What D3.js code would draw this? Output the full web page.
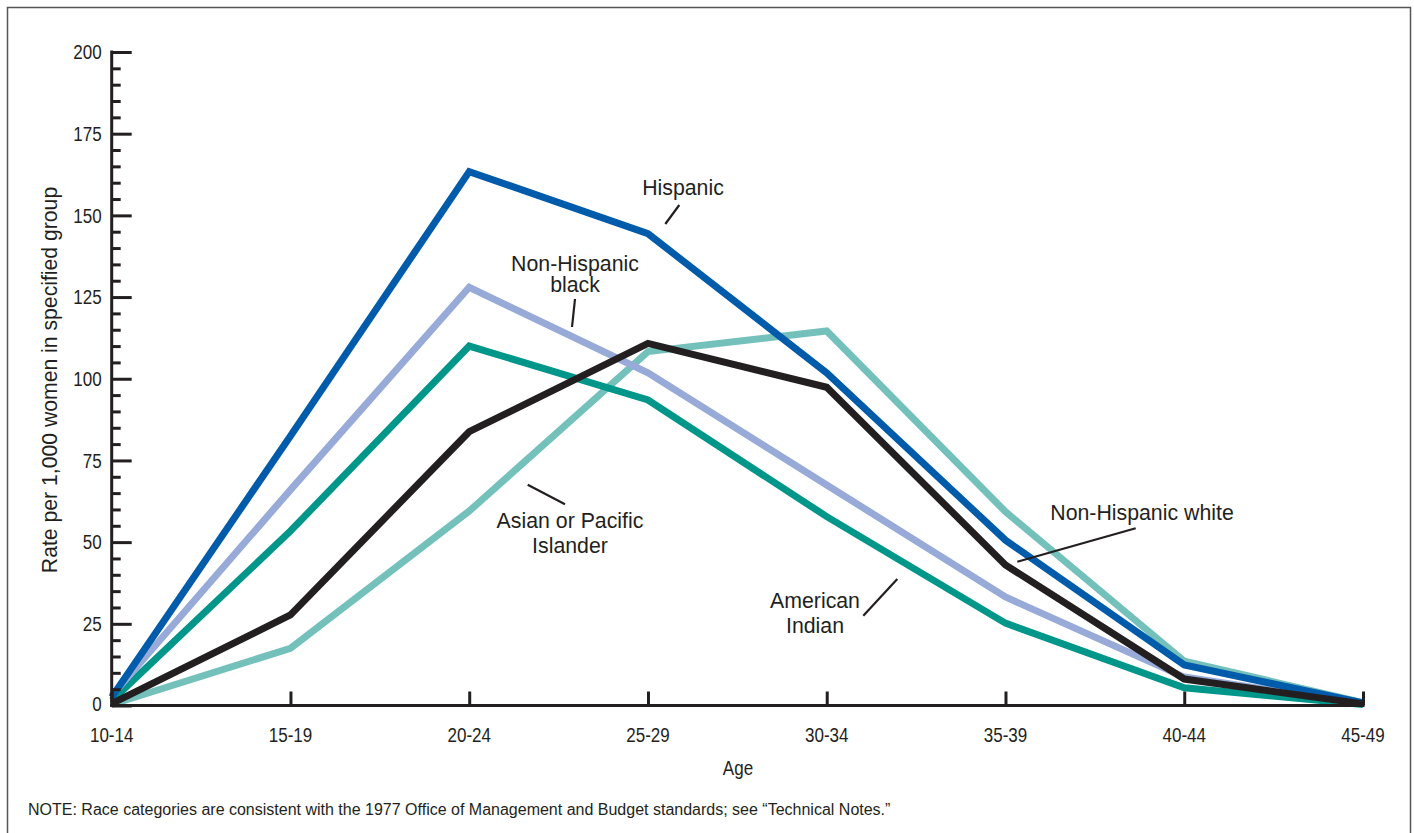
<!DOCTYPE html>
<html><head><meta charset="utf-8">
<script src="https://cdn.jsdelivr.net/npm/d3@7"></script>
<style>
body{margin:0;background:#fff;}
svg text{fill:#231F20;}
</style></head>
<body>
<svg id="chart" width="1414" height="833"></svg>
<script>
const ageGroups = ["10-14","15-19","20-24","25-29","30-34","35-39","40-44","45-49"];
const asian     = [0.3, 17.5, 59.5, 108.3, 114.6, 59.3, 13.6, 0.9];
const amIndian  = [1.5, 53.4, 110.0, 93.5, 57.8, 25.2, 5.4, 0.3];
const nhBlack   = [3.0, 66.0, 128.0, 101.8, 67.5, 33.2, 8.7, 0.5];
const hispanic  = [2.5, 82.5, 163.4, 144.4, 101.8, 50.6, 12.4, 0.8];
const nhWhite   = [0.6, 27.7, 83.8, 110.8, 97.4, 43.0, 8.1, 0.5];
const yTicks    = [0, 25, 50, 75, 100, 125, 150, 175, 200];

const series = [
  {name:"Asian or Pacific Islander", values: asian,    color:"#74C1BC"},
  {name:"American Indian",           values: amIndian, color:"#00968A"},
  {name:"Non-Hispanic black",        values: nhBlack,  color:"#97AAD8"},
  {name:"Hispanic",                  values: hispanic, color:"#005BAA"},
  {name:"Non-Hispanic white",        values: nhWhite,  color:"#231F20"}
];

const svg = d3.select("#chart");
const regular = "'Liberation Sans',Arial,Helvetica,sans-serif";
const condScale = 0.83;

// frame
svg.append("rect").attr("x",7.5).attr("y",7.5).attr("width",1403).attr("height",830)
  .attr("fill","none").attr("stroke","#555").attr("stroke-width",1.5);

const x = d3.scalePoint().domain(ageGroups).range([111.7, 1363]);
const y = d3.scaleLinear().domain([0,200]).range([705.5, 52]);

// lines
const line = d3.line().x((d,i)=>x(ageGroups[i])).y(d=>y(d));
svg.append("g").selectAll("path").data(series).join("path")
  .attr("d", d=>line(d.values))
  .attr("fill","none").attr("stroke",d=>d.color)
  .attr("stroke-width",7).attr("stroke-linejoin","miter");

// y axis
const minor = d3.range(0,201,5).filter(v=>v%25!==0);
const yAxisG = svg.append("g").attr("transform","translate(111.7,0)");
yAxisG.call(d3.axisRight(y).tickValues(minor).tickSize(9).tickFormat(""))
  .call(g=>g.select(".domain").remove());
yAxisG.append("g").call(d3.axisRight(y).tickValues(yTicks).tickSize(20).tickFormat(""))
  .call(g=>g.select(".domain").remove());
yAxisG.selectAll("line").attr("stroke","#231F20").attr("stroke-width",3);
yAxisG.append("line").attr("x1",0).attr("x2",0).attr("y1",y(200)-1.5).attr("y2",y(0)+1.5)
  .attr("stroke","#231F20").attr("stroke-width",3);
yAxisG.selectAll(".ylab").data(yTicks).join("text").attr("class","ylab")
  .attr("transform",d=>`translate(-10,${y(d) - (d===0?2:0)}) scale(${condScale},1)`)
  .attr("dy","0.35em")
  .attr("text-anchor","end").attr("font-family",regular).attr("font-size",20.5)
  .text(d=>d);

// x axis
const xAxisG = svg.append("g").attr("transform",`translate(0,${y(0)})`);
xAxisG.call(d3.axisTop(x).tickSize(14).tickFormat(""))
  .call(g=>g.select(".domain").remove());
xAxisG.selectAll("line").attr("stroke","#231F20").attr("stroke-width",3);
xAxisG.append("line").attr("x1",x(ageGroups[0])-1.5).attr("x2",x(ageGroups[7])+1.5)
  .attr("y1",0).attr("y2",0).attr("stroke","#231F20").attr("stroke-width",3);
xAxisG.selectAll(".xlab").data(ageGroups).join("text").attr("class","xlab")
  .attr("transform",d=>`translate(${x(d)},36) scale(${condScale},1)`)
  .attr("text-anchor","middle")
  .attr("font-family",regular).attr("font-size",20.5).text(d=>d);

svg.append("text").attr("transform",`translate(738,775) scale(${condScale},1)`)
  .attr("text-anchor","middle")
  .attr("font-family",regular).attr("font-size",20.5).text("Age");

svg.append("text").attr("transform","translate(57,380) rotate(-90)")
  .attr("text-anchor","middle").attr("font-family",regular).attr("font-size",21.2)
  .text("Rate per 1,000 women in specified group");

svg.append("text").attr("x",28).attr("y",815)
  .attr("font-family",regular).attr("font-size",16)
  .text("NOTE: Race categories are consistent with the 1977 Office of Management and Budget standards; see \u201CTechnical Notes.\u201D");

// annotations
const labels = [
  {lines:["Hispanic"], x:683, y:195, leader:[679.3,205,665.3,224]},
  {lines:["Non-Hispanic","black"], x:575, y:270.5, dy:21.5, leader:[575,299,572,327]},
  {lines:["Asian or Pacific","Islander"], x:570, y:527.5, dy:25.5, leader:[527.7,484.7,565,504.3]},
  {lines:["American","Indian"], x:815, y:607.5, dy:25.5, leader:[897.3,579,863.3,615.7]},
  {lines:["Non-Hispanic white"], x:1142, y:520, leader:[1135.7,528.3,1017.3,561.7]}
];
const ann = svg.append("g");
labels.forEach(l=>{
  l.lines.forEach((t,i)=>{
    ann.append("text").attr("x",l.x).attr("y",l.y+i*(l.dy||0))
      .attr("text-anchor","middle").attr("font-family",regular).attr("font-size",21.3).text(t);
  });
  ann.append("line").attr("x1",l.leader[0]).attr("y1",l.leader[1])
    .attr("x2",l.leader[2]).attr("y2",l.leader[3])
    .attr("stroke","#231F20").attr("stroke-width",2.2);
});
</script>
</body></html>
